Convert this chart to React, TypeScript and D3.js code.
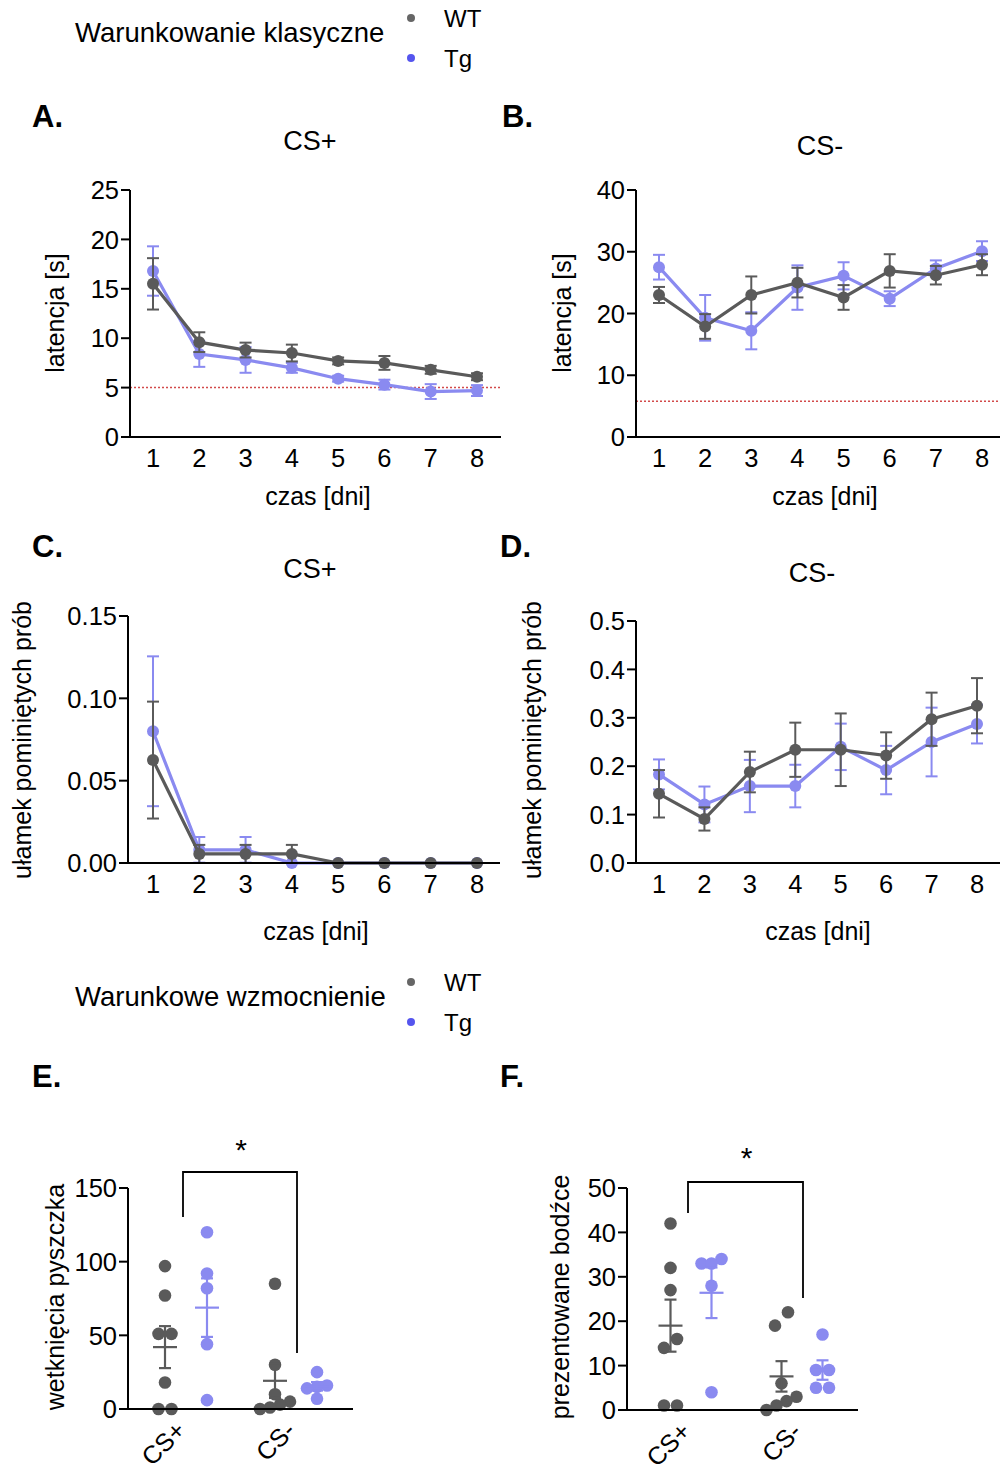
import React from 'react';
import * as d3 from 'd3';

const days = [1, 2, 3, 4, 5, 6, 7, 8];

const aWT = [15.5, 9.6, 8.8, 8.5, 7.7, 7.5, 6.8, 6.1];
const aWTerr = [2.6, 1.0, 0.75, 0.85, 0.35, 0.7, 0.4, 0.35];
const aTg = [16.8, 8.4, 7.8, 7.0, 5.9, 5.3, 4.6, 4.7];
const aTgErr = [2.5, 1.3, 1.3, 0.5, 0.3, 0.5, 0.75, 0.55];
const aThreshold = 5;
const aTicks = [0, 5, 10, 15, 20, 25];

const bWT = [23.0, 17.9, 23.0, 25.0, 22.6, 26.9, 26.2, 27.9];
const bWTerr = [1.3, 2.0, 3.0, 2.4, 2.0, 2.7, 1.5, 1.7];
const bTg = [27.5, 19.3, 17.2, 24.2, 26.1, 22.4, 27.3, 30.1];
const bTgErr = [2.0, 3.7, 3.0, 3.6, 2.2, 1.2, 1.3, 1.6];
const bThreshold = 5.8;
const bTicks = [0, 10, 20, 30, 40];

const cWT = [0.0625, 0.0055, 0.0055, 0.0055, 0, 0, 0, 0];
const cWTerr = [0.0355, 0.0055, 0.0055, 0.0055, 0, 0, 0, 0];
const cTg = [0.08, 0.008, 0.008, 0, 0, 0, 0, 0];
const cTgErr = [0.0455, 0.0078, 0.0078, 0, 0, 0, 0, 0];
const cTicks = [0, 0.05, 0.1, 0.15];

const dWT = [0.143, 0.091, 0.188, 0.234, 0.234, 0.222, 0.297, 0.325];
const dWTerr = [0.049, 0.024, 0.042, 0.056, 0.075, 0.048, 0.055, 0.057];
const dTg = [0.183, 0.121, 0.159, 0.159, 0.24, 0.192, 0.25, 0.287];
const dTgErr = [0.031, 0.037, 0.054, 0.044, 0.048, 0.05, 0.071, 0.04];
const dTicks = [0, 0.1, 0.2, 0.3, 0.4, 0.5];

const categories = ['CS+', 'CS-'];
const groups = ['WT', 'Tg'];

const eWTplus = [97, 77, 51, 51, 18, 0, 0];
const eTgPlus = [120, 92, 82, 44, 6];
const eWTminus = [85, 30, 10, 5, 3, 1, 0];
const eTgMinus = [25, 16, 15, 14, 7];
const eTicks = [0, 50, 100, 150];

const fWTplus = [42, 32, 27, 16, 14, 1, 1];
const fTgPlus = [34, 33, 33, 28, 4];
const fWTminus = [22, 19, 6, 3, 2, 1, 0];
const fTgMinus = [17, 9, 9, 5, 5];
const fTicks = [0, 10, 20, 30, 40, 50];

const WT_COLOR = '#5a5a5a';
const TG_COLOR = '#8a8af0';
const FONT = "'Liberation Sans', Arial, Helvetica, sans-serif";
const TICK_FS = 25.5;
const LABEL_FS = 25;

type LineProps = {
  axisX: number; axisEnd: number; yBottom: number; yTop: number;
  yMax: number; ticks: number[]; fmt: (v: number) => string;
  x1: number; x8: number;
  wt: number[]; wtErr: number[]; tg: number[]; tgErr: number[];
  threshold?: number;
  title: string; titleX: number; titleY: number;
  xLabelX: number; xLabelY: number;
  yLabel: string; yLabelX: number; yLabelY: number;
};

function LinePanel(p: LineProps) {
  const x = d3.scaleLinear().domain([1, 8]).range([p.x1, p.x8]);
  const y = d3.scaleLinear().domain([0, p.yMax]).range([p.yBottom, p.yTop]);
  const line = d3.line<number>().x((_, i) => x(days[i])).y((v) => y(v));
  const series = [
    { vals: p.tg, err: p.tgErr, color: TG_COLOR },
    { vals: p.wt, err: p.wtErr, color: WT_COLOR },
  ];
  return (
    <g fontFamily={FONT}>
      {p.threshold !== undefined && (
        <line x1={p.axisX} x2={p.axisEnd} y1={y(p.threshold)} y2={y(p.threshold)}
          stroke="#d24a4a" strokeWidth={1.5} strokeDasharray="2,2" />
      )}
      {series.map((s, si) => (
        <g key={si}>
          <path d={line(s.vals) || ''} fill="none" stroke={s.color} strokeWidth={3.2} />
          {s.vals.map((v, i) => {
            const e = s.err[i];
            if (e <= 0) return null;
            const cx = x(days[i]);
            return (
              <g key={i} stroke={s.color} strokeWidth={2}>
                <line x1={cx} x2={cx} y1={y(v - e)} y2={y(v + e)} />
                <line x1={cx - 6} x2={cx + 6} y1={y(v + e)} y2={y(v + e)} />
                <line x1={cx - 6} x2={cx + 6} y1={y(v - e)} y2={y(v - e)} />
              </g>
            );
          })}
          {s.vals.map((v, i) => (
            <circle key={'c' + i} cx={x(days[i])} cy={y(v)} r={6} fill={s.color} />
          ))}
        </g>
      ))}
      <line x1={p.axisX} x2={p.axisX} y1={p.yTop} y2={p.yBottom} stroke="#000" strokeWidth={2} />
      <line x1={p.axisX} x2={p.axisEnd} y1={p.yBottom} y2={p.yBottom} stroke="#000" strokeWidth={2} />
      {p.ticks.map((t) => (
        <g key={t}>
          <line x1={p.axisX - 9} x2={p.axisX} y1={y(t)} y2={y(t)} stroke="#000" strokeWidth={2} />
          <text x={p.axisX - 11} y={y(t)} dy="0.36em" textAnchor="end" fontSize={TICK_FS}>{p.fmt(t)}</text>
        </g>
      ))}
      {days.map((d) => (
        <text key={d} x={x(d)} y={p.yBottom + 30} textAnchor="middle" fontSize={TICK_FS}>{d}</text>
      ))}
      <text x={p.titleX} y={p.titleY} textAnchor="middle" fontSize={27}>{p.title}</text>
      <text x={p.xLabelX} y={p.xLabelY} textAnchor="middle" fontSize={LABEL_FS}>czas [dni]</text>
      <text transform={`translate(${p.yLabelX},${p.yLabelY}) rotate(-90)`} textAnchor="middle"
        dy="0.36em" fontSize={LABEL_FS}>{p.yLabel}</text>
    </g>
  );
}

function dodge(vals: number[], y: (v: number) => number, thresh: number) {
  const idx = vals.map((v, i) => i).sort((a, b) => vals[a] - vals[b]);
  const offs = new Array(vals.length).fill(0);
  let i = 0;
  while (i < idx.length) {
    const start = y(vals[idx[i]]);
    let j = i;
    while (j + 1 < idx.length && Math.abs(y(vals[idx[j + 1]]) - start) < thresh) j++;
    const n = j - i + 1;
    const spacing = n <= 2 ? 13 : 10;
    for (let k = 0; k < n; k++) offs[idx[i + k]] = (k - (n - 1) / 2) * spacing;
    i = j + 1;
  }
  return offs;
}

type ScatterProps = {
  axisX: number; axisEnd: number; yBottom: number; yTop: number; yMax: number; ticks: number[];
  catRange: [number, number]; sub: number; thresh: number;
  data: number[][][];
  bracketY: number; legL: number; legR: number; starY: number;
  yLabel: string; yLabelX: number; yLabelY: number;
};

function ScatterPanel(p: ScatterProps) {
  const xc = d3.scalePoint<string>().domain(categories).range(p.catRange);
  const xg = d3.scalePoint<string>().domain(groups).range([-p.sub, p.sub]);
  const y = d3.scaleLinear().domain([0, p.yMax]).range([p.yBottom, p.yTop]);
  const bl = xc('CS+')!;
  const br = xc('CS-')!;
  return (
    <g fontFamily={FONT}>
      {categories.map((c, ci) =>
        groups.map((g, gi) => {
          const vals = p.data[ci][gi];
          const color = gi === 0 ? WT_COLOR : TG_COLOR;
          const cx = xc(c)! + xg(g)!;
          const offs = dodge(vals, y, p.thresh);
          const mean = d3.mean(vals)!;
          const sem = d3.deviation(vals)! / Math.sqrt(vals.length);
          return (
            <g key={c + g}>
              {vals.map((v, i) => (
                <circle key={i} cx={cx + offs[i]} cy={y(v)} r={6.3} fill={color} />
              ))}
              <g stroke={color} strokeWidth={2.2}>
                <line x1={cx - 12} x2={cx + 12} y1={y(mean)} y2={y(mean)} />
                <line x1={cx} x2={cx} y1={y(mean - sem)} y2={y(mean + sem)} />
                <line x1={cx - 6} x2={cx + 6} y1={y(mean + sem)} y2={y(mean + sem)} />
                <line x1={cx - 6} x2={cx + 6} y1={y(mean - sem)} y2={y(mean - sem)} />
              </g>
            </g>
          );
        })
      )}
      <line x1={p.axisX} x2={p.axisX} y1={p.yTop} y2={p.yBottom} stroke="#000" strokeWidth={2} />
      <line x1={p.axisX} x2={p.axisEnd} y1={p.yBottom} y2={p.yBottom} stroke="#000" strokeWidth={2} />
      {p.ticks.map((t) => (
        <g key={t}>
          <line x1={p.axisX - 9} x2={p.axisX} y1={y(t)} y2={y(t)} stroke="#000" strokeWidth={2} />
          <text x={p.axisX - 11} y={y(t)} dy="0.36em" textAnchor="end" fontSize={TICK_FS}>{t}</text>
        </g>
      ))}
      {categories.map((c) => (
        <text key={c} transform={`translate(${xc(c)! + 1},${p.yBottom + 23}) rotate(-45)`}
          textAnchor="end" fontSize={LABEL_FS}>{c}</text>
      ))}
      <path d={`M${bl - 3},${p.legL}V${p.bracketY}H${br + 1}V${p.legR}`} fill="none" stroke="#000" strokeWidth={1.8} />
      <text x={(bl + br) / 2} y={p.starY} textAnchor="middle" fontSize={30}>*</text>
      <text transform={`translate(${p.yLabelX},${p.yLabelY}) rotate(-90)`} textAnchor="middle"
        dy="0.36em" fontSize={LABEL_FS}>{p.yLabel}</text>
    </g>
  );
}

function Legend({ title, y }: { title: string; y: number }) {
  return (
    <g fontFamily={FONT}>
      <text x={75} y={y + 14} dy="0.36em" fontSize={27.5}>{title}</text>
      <circle cx={411} cy={y} r={4} fill="#666" />
      <circle cx={411} cy={y + 40} r={4} fill="#5555ee" />
      <text x={444} y={y} dy="0.36em" fontSize={24}>WT</text>
      <text x={444} y={y + 40} dy="0.36em" fontSize={24}>Tg</text>
    </g>
  );
}

const fmt2 = d3.format('.2f');
const fmt1 = d3.format('.1f');
const fmt0 = d3.format('d');

export default function App() {
  return (
    <svg width={1001} height={1472} style={{ position: 'absolute', left: 0, top: 0, background: '#fff' }}>
      <rect width={1001} height={1472} fill="#fff" />
      <Legend title="Warunkowanie klasyczne" y={18} />
      <Legend title="Warunkowe wzmocnienie" y={982} />
      <g fontFamily={FONT} fontWeight="bold" fontSize={31}>
        <text x={32} y={127}>A.</text>
        <text x={502} y={127}>B.</text>
        <text x={32} y={557}>C.</text>
        <text x={500} y={557}>D.</text>
        <text x={32} y={1087}>E.</text>
        <text x={500} y={1087}>F.</text>
      </g>
      <LinePanel axisX={130} axisEnd={501} yBottom={437} yTop={190} yMax={25} ticks={aTicks} fmt={fmt0}
        x1={153} x8={477} wt={aWT} wtErr={aWTerr} tg={aTg} tgErr={aTgErr} threshold={aThreshold}
        title="CS+" titleX={310} titleY={150} xLabelX={318} xLabelY={505}
        yLabel="latencja [s]" yLabelX={55} yLabelY={313} />
      <LinePanel axisX={636} axisEnd={1000} yBottom={437} yTop={190} yMax={40} ticks={bTicks} fmt={fmt0}
        x1={659} x8={982} wt={bWT} wtErr={bWTerr} tg={bTg} tgErr={bTgErr} threshold={bThreshold}
        title="CS-" titleX={820} titleY={155} xLabelX={825} xLabelY={505}
        yLabel="latencja [s]" yLabelX={562} yLabelY={313} />
      <LinePanel axisX={128} axisEnd={500} yBottom={863} yTop={616} yMax={0.15} ticks={cTicks} fmt={fmt2}
        x1={153} x8={477} wt={cWT} wtErr={cWTerr} tg={cTg} tgErr={cTgErr}
        title="CS+" titleX={310} titleY={578} xLabelX={316} xLabelY={940}
        yLabel="ułamek pominiętych prób" yLabelX={22} yLabelY={740} />
      <LinePanel axisX={636} axisEnd={1000} yBottom={863} yTop={621} yMax={0.5} ticks={dTicks} fmt={fmt1}
        x1={659} x8={977} wt={dWT} wtErr={dWTerr} tg={dTg} tgErr={dTgErr}
        title="CS-" titleX={812} titleY={582} xLabelX={818} xLabelY={940}
        yLabel="ułamek pominiętych prób" yLabelX={532} yLabelY={740} />
      <ScatterPanel axisX={128} axisEnd={353} yBottom={1409} yTop={1188} yMax={150} ticks={eTicks}
        catRange={[186, 296]} sub={21} thresh={10}
        data={[[eWTplus, eTgPlus], [eWTminus, eTgMinus]]}
        bracketY={1172} legL={1217} legR={1353} starY={1160}
        yLabel="wetknięcia pyszczka" yLabelX={55} yLabelY={1297} />
      <ScatterPanel axisX={627} axisEnd={858} yBottom={1410} yTop={1188} yMax={50} ticks={fTicks}
        catRange={[691, 802]} sub={20.5} thresh={14}
        data={[[fWTplus, fTgPlus], [fWTminus, fTgMinus]]}
        bracketY={1182} legL={1213} legR={1298} starY={1168}
        yLabel="prezentowane bodźce" yLabelX={560} yLabelY={1297} />
    </svg>
  );
}
